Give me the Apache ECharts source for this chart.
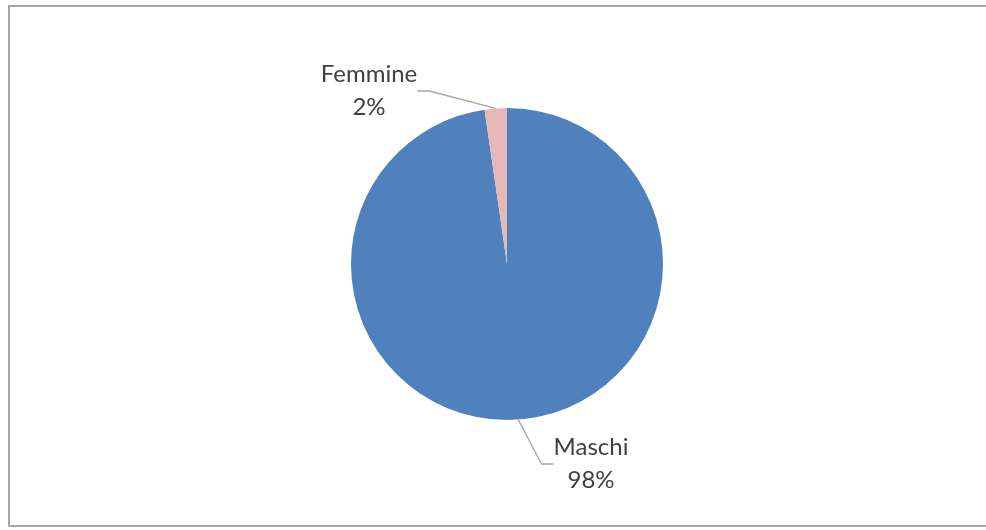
<!DOCTYPE html>
<html>
<head>
<meta charset="utf-8">
<script src="https://cdn.jsdelivr.net/npm/echarts@6/dist/echarts.min.js"></script>
<style>
html,body{margin:0;padding:0;background:#fff;}
#frame{position:absolute;left:8px;top:5px;width:984px;height:522px;border:2px solid #A6A6A6;box-sizing:border-box;}
#chart{position:absolute;left:0;top:0;width:986px;height:530px;}
</style>
</head>
<body>
<div id="frame"></div>
<div id="chart"></div>
<script>
const categories = ["Maschi", "Femmine"];
const values = [97.7, 2.3];
const colors = ["#4F81BD", "#E6B9B8"];

const chart = echarts.init(document.getElementById('chart'), null, {renderer:'canvas'});
const labelPos = {
  0: {x: 591, y: 464},
  1: {x: 369, y: 91}
};
chart.setOption({
  animation: false,
  series: [{
    type: 'pie',
    center: [507, 264],
    radius: 156,
    startAngle: 90,
    clockwise: true,
    silent: true,
    data: categories.map((c, i) => ({name: c, value: values[i], itemStyle: {color: colors[i]}})),
    itemStyle: {borderWidth: 0},
    label: {
      show: true,
      formatter: p => p.name + '\n' + Math.round(p.percent) + '%',
      fontFamily: 'Lato, "Open Sans", sans-serif',
      fontSize: 24,
      lineHeight: 33,
      color: '#404040',
      align: 'center'
    },
    labelLine: {
      show: true,
      length: 30,
      length2: 12,
      lineStyle: {color: '#A6A6A6', width: 1.3}
    },
    labelLayout: function (params) {
      const p = labelPos[params.dataIndex];
      return {x: p.x, y: p.y, align: 'center', verticalAlign: 'middle'};
    }
  }]
});
</script>
</body>
</html>
